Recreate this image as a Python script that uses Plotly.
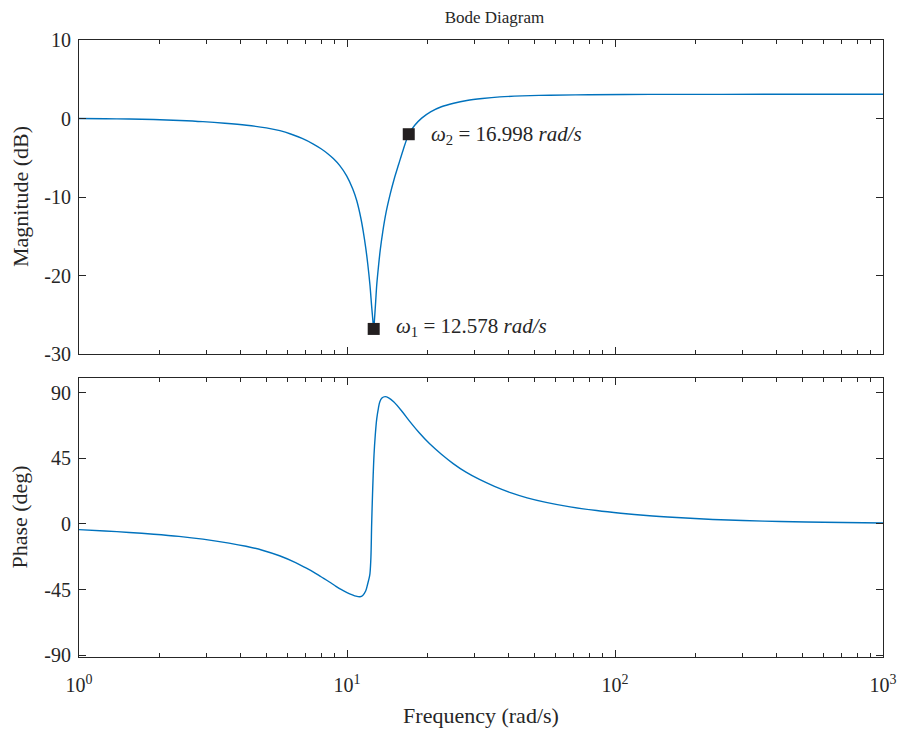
import math
import plotly.graph_objects as go

# Magnitude response (rad/s, dB)
mag_w = [1.0, 1.25, 1.54, 1.9, 2.38, 2.9, 3.5, 4.22, 5.0, 5.62, 6.2, 6.8, 7.49, 8.0, 8.5,
         8.89, 9.4, 9.97, 10.5, 10.87, 11.28, 11.5, 11.75, 11.95, 12.18, 12.35, 12.48, 12.578,
         12.68, 12.8, 12.91, 13.1, 13.3, 13.6, 14.0, 14.5, 15.0, 15.6, 16.2, 16.998,
         17.9, 19.0, 20.5, 22.5, 25.0, 28.0, 32.0, 37.2, 45.0, 57.2, 80.0, 135.0, 250.0, 1000.0]
mag_db = [0.0, -0.03, -0.07, -0.13, -0.25, -0.4, -0.6, -0.86, -1.2, -1.55, -2.0, -2.54, -3.25, -3.85, -4.51,
          -5.1, -6.0, -7.3, -8.95, -10.45, -12.8, -14.4, -16.5, -18.5, -21.2, -23.8, -25.6, -26.8,
          -25.3, -23.2, -21.2, -18.9, -16.8, -14.4, -11.9, -9.6, -7.7, -5.8, -4.0, -2.0,
          -0.86, 0.05, 0.85, 1.5, 1.95, 2.3, 2.55, 2.75, 2.88, 2.97, 3.03, 3.07, 3.08, 3.09]

# Phase response (rad/s, deg)
ph_w = [1.0, 1.25, 1.54, 1.9, 2.36, 2.9, 3.63, 4.2, 4.83, 5.6, 6.43, 7.0, 7.5, 8.0, 8.57,
        9.0, 9.5, 10.0, 10.47, 10.8, 11.18, 11.45, 11.74, 11.95, 12.1, 12.18, 12.28, 12.36,
        12.45, 12.52, 12.61, 12.75, 12.91, 13.1, 13.26, 13.5, 13.87, 14.3, 14.93, 16.0,
        17.2, 18.6, 20.3, 22.5, 24.9, 27.8, 31.2, 35.5, 41.0, 47.0, 55.3, 68.0, 85.4,
        105.0, 131.0, 170.0, 232.0, 300.0, 414.0, 600.0, 1000.0]
ph_deg = [-3.9, -4.8, -5.8, -7.0, -8.5, -10.4, -13.1, -15.3, -18.0, -21.8, -26.5, -30.0, -33.0, -36.2, -39.6,
          -42.2, -44.9, -47.0, -48.6, -49.5, -49.9, -49.0, -46.0, -41.0, -37.0, -34.0, -23.0, 0.0,
          20.0, 33.0, 47.0, 61.0, 72.0, 79.5, 83.8, 86.3, 87.3, 86.5, 83.8, 77.5,
          70.0, 62.5, 55.1, 47.8, 41.4, 35.5, 30.5, 25.8, 21.3, 17.9, 14.8, 11.7, 9.2,
          7.4, 5.8, 4.4, 3.1, 2.4, 1.7, 1.15, 0.7]

# Marked frequencies
mark_w = [12.578, 16.998]
mark_db = [-26.8, -2.0]
mark_names = ["1", "2"]

x_ticks = [1, 10, 100, 1000]
x_ticktext = ["10<sup>0</sup>", "10<sup>1</sup>", "10<sup>2</sup>", "10<sup>3</sup>"]
mag_ticks = [-30, -20, -10, 0, 10]
ph_ticks = [-90, -45, 0, 45, 90]

INK = "#262626"
BLUE = "#0072BD"
FONT = "Liberation Serif"

fig = go.Figure()
fig.add_trace(go.Scatter(x=mag_w, y=mag_db, mode="lines",
                         line=dict(color=BLUE, width=1.4, shape="spline", smoothing=0.9),
                         xaxis="x", yaxis="y", showlegend=False))
fig.add_trace(go.Scatter(x=mark_w, y=mark_db, mode="markers",
                         marker=dict(symbol="square", size=12, color="#231f20"),
                         xaxis="x", yaxis="y", showlegend=False))
fig.add_trace(go.Scatter(x=ph_w, y=ph_deg, mode="lines",
                         line=dict(color=BLUE, width=1.4, shape="spline", smoothing=0.9),
                         xaxis="x2", yaxis="y2", showlegend=False))

for w, d, n in zip(mark_w, mark_db, mark_names):
    fig.add_annotation(x=math.log10(w), y=d, xref="x", yref="y", xanchor="left", yanchor="middle",
                       xshift=20, yshift=-1 if n == "2" else 2, showarrow=False,
                       text=f"<i>ω</i><sub>{n}</sub> = {w:.3f} <i>rad/s</i>",
                       font=dict(family=FONT, size=21, color=INK))

tick_font = dict(family=FONT, size=20, color=INK)
title_font = dict(family=FONT, size=22, color=INK)

# Vertical axis titles, placed left of the tick labels
for text, yref in [("Magnitude (dB)", "y domain"), ("Phase (deg)", "y2 domain")]:
    fig.add_annotation(x=0, y=0.5, xref="paper", yref=yref, xanchor="center", yanchor="middle",
                       xshift=-59, textangle=-90, showarrow=False, text=text, font=title_font)

axis_common = dict(showline=True, linecolor=INK, linewidth=1, mirror="ticks", ticks="inside",
                   tickcolor=INK, ticklen=7, showgrid=False, zeroline=False, tickfont=tick_font,
                   automargin=False)
xaxis_common = dict(axis_common, type="log", range=[0, 3], tickvals=x_ticks,
                    minor=dict(ticks="inside", ticklen=4, tickcolor=INK, dtick="D1", showgrid=False))

fig.update_layout(
    width=899, height=729,
    margin=dict(l=79, r=16, t=40, b=72),
    paper_bgcolor="white", plot_bgcolor="white",
    font=dict(family=FONT, color=INK, size=20),
    title=dict(text="Bode Diagram", x=0.55, xanchor="center", y=0.977, yanchor="middle",
               font=dict(family=FONT, size=17, color=INK)),
    xaxis=dict(xaxis_common, domain=[0, 1], anchor="y", showticklabels=False, matches="x2"),
    yaxis=dict(axis_common, domain=[0.491, 1], range=[-30, 10], tickvals=mag_ticks,
               ticktext=[str(v) for v in mag_ticks], ticklabelstandoff=3),
    xaxis2=dict(xaxis_common, domain=[0, 1], anchor="y2", ticktext=x_ticktext, ticklabelstandoff=10,
                title=dict(text="Frequency (rad/s)", standoff=12, font=title_font)),
    yaxis2=dict(axis_common, domain=[0, 0.452], range=[-91.2, 100], tickvals=ph_ticks,
                ticktext=[str(v) for v in ph_ticks], ticklabelstandoff=3),
)

fig.write_html("out.html")
